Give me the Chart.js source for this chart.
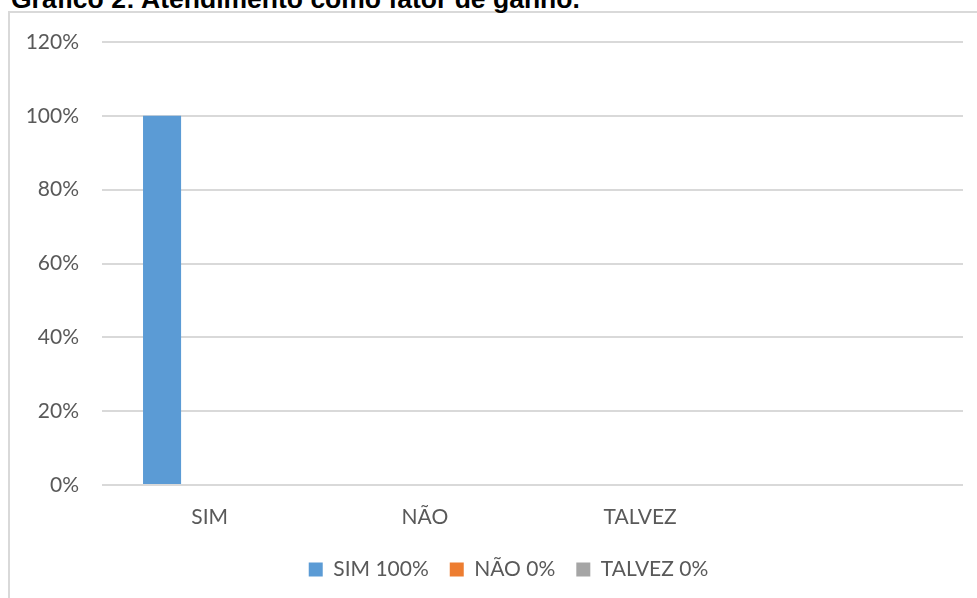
<!DOCTYPE html>
<html>
<head>
<meta charset="utf-8">
<script src="https://cdn.jsdelivr.net/npm/chart.js@4/dist/chart.umd.min.js"></script>
<style>
  html, body { margin: 0; padding: 0; background: #fff; overflow: hidden; }
  #wrap { position: relative; width: 977px; height: 598px; overflow: hidden; }
  #frame { position: absolute; left: 8px; top: 11px; width: 1100px; height: 700px;
           border: 2px solid #d9d9d9; box-sizing: border-box; }
  #title { position: absolute; left: 11px; top: -14px; margin: 0;
           font: bold 26.5px "Liberation Sans", Arial, sans-serif; line-height: 26px;
           color: #000; white-space: nowrap; }
  #chart { position: absolute; left: 0; top: 0; }
</style>
</head>
<body>
<div id="wrap">
  <div id="frame"></div>
  <h1 id="title">Gráfico 2: Atendimento como fator de ganho.</h1>
  <canvas id="chart" width="977" height="598"></canvas>
</div>
<script>
// Categories on the x axis (the last slot is left blank)
const categories = ['SIM', 'NÃO', 'TALVEZ', ''];
// Legend names of the three series
const seriesNames = ['SIM 100%', 'NÃO 0%', 'TALVEZ 0%'];
// Percent answering each option
const simValues = [100, null, null, null];
const naoValues = [null, 0, null, null];
const talvezValues = [null, null, 0, null];
// Y axis range and step (percent)
const yMin = 0, yMax = 120, yStep = 20;

const seriesColors = ['#5b9bd5', '#ed7d31', '#a5a5a5'];
const textColor = '#595959';
const gridColor = '#d9d9d9';
const fontFamily = 'Lato, "Open Sans", sans-serif';

// Center the legend under the whole framed box rather than the canvas
const legendShift = {
  id: 'legendShift',
  afterLayout(chart) {
    const lg = chart.legend;
    if (lg) { lg.left += 27; lg.right += 27; }
  }
};

new Chart(document.getElementById('chart'), {
  type: 'bar',
  data: {
    labels: categories,
    datasets: [simValues, naoValues, talvezValues].map((vals, i) => ({
      label: seriesNames[i],
      data: vals,
      backgroundColor: seriesColors[i],
      borderWidth: 0,
      categoryPercentage: 0.663,
      barPercentage: 0.8
    }))
  },
  plugins: [legendShift],
  options: {
    responsive: false,
    animation: false,
    events: [],
    layout: { padding: { left: 0, right: 14, top: 42, bottom: 8 } },
    plugins: {
      title: { display: false },
      tooltip: { enabled: false },
      legend: {
        position: 'bottom',
        labels: {
          boxWidth: 14, boxHeight: 14, padding: 21,
          color: textColor,
          font: { family: fontFamily, size: 21 }
        }
      }
    },
    scales: {
      x: {
        grid: { display: false, drawTicks: false },
        border: { display: false },
        ticks: { color: textColor, padding: 20, font: { family: fontFamily, size: 21 } },
        afterFit: (axis) => { axis.height = 53; }
      },
      y: {
        min: yMin, max: yMax,
        grid: { color: gridColor, lineWidth: 2, drawTicks: false },
        border: { display: false },
        ticks: {
          stepSize: yStep, padding: 23, color: textColor,
          font: { family: fontFamily, size: 21 },
          callback: (v) => v + '%'
        },
        afterFit: (axis) => { axis.width = 102; }
      }
    }
  }
});
</script>
</body>
</html>
